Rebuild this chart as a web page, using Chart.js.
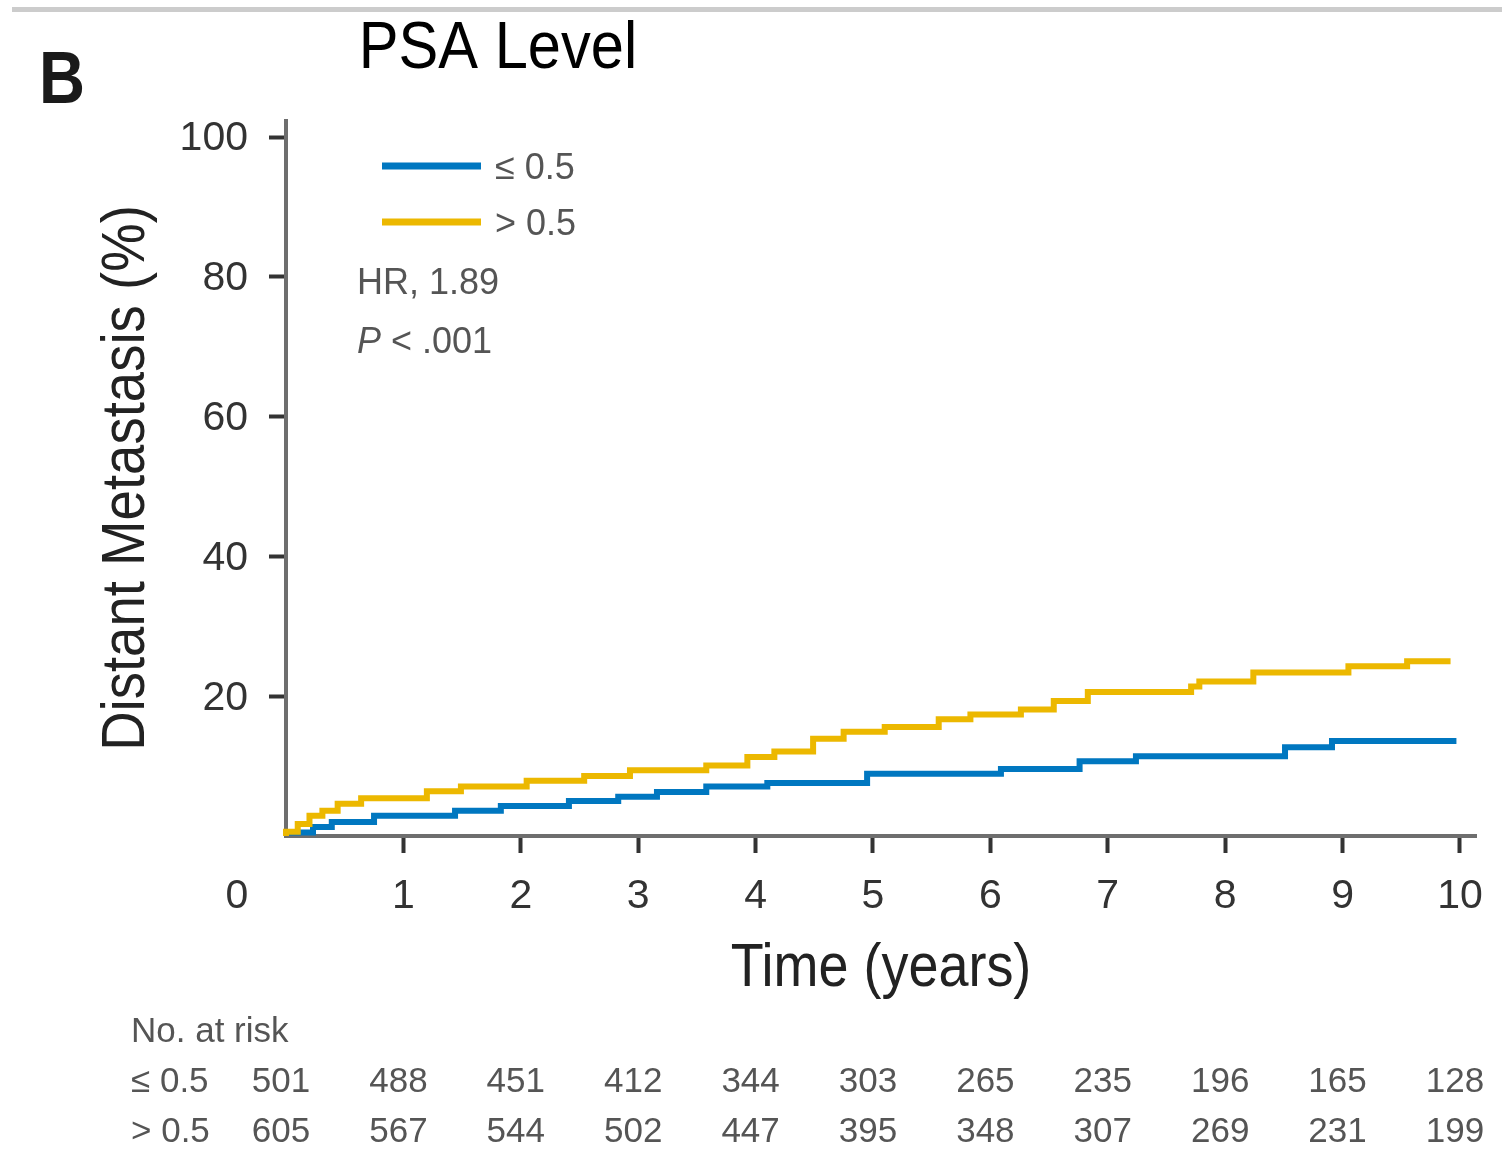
<!DOCTYPE html>
<html>
<head>
<meta charset="utf-8">
<script src="https://cdn.jsdelivr.net/npm/chart.js@4.4.1/dist/chart.umd.min.js"></script>
<style>
html,body{margin:0;padding:0;background:#fff;}
canvas{display:block;}
</style>
</head>
<body>
<canvas id="c" width="1502" height="1153"></canvas>
<script>
// ---- data ----
const titleText = "PSA Level";
const panelLetter = "B";
const yTitle = "Distant Metastasis (%)";
const xTitle = "Time (years)";
const seriesLabels = ["\u2264 0.5", "> 0.5"];
const hrText = "HR, 1.89";
const pText = " < .001";
const xTickValues = [1, 2, 3, 4, 5, 6, 7, 8, 9, 10];
const yTickValues = [20, 40, 60, 80, 100];
const riskTimes = [0, 1, 2, 3, 4, 5, 6, 7, 8, 9, 10];
const riskLow = [501, 488, 451, 412, 344, 303, 265, 235, 196, 165, 128];
const riskHigh = [605, 567, 544, 502, 447, 395, 348, 307, 269, 231, 199];

const lowTimes = [0, 0.23, 0.39, 0.75, 1.44, 1.83, 2.41, 2.83, 3.16, 3.58, 4.10, 4.95, 6.09, 6.76, 7.24, 8.51, 8.91, 9.52, 9.97];
const lowValues = [0, 0.5, 1.3, 2.0, 2.9, 3.6, 4.3, 5.0, 5.6, 6.3, 7.1, 7.6, 8.9, 9.6, 10.7, 11.4, 12.7, 13.6, 13.6];

const highTimes = [0, 0.10, 0.20, 0.31, 0.44, 0.64, 1.20, 1.49, 2.05, 2.54, 2.93, 3.58, 3.93, 4.16, 4.49, 4.75, 5.10, 5.56, 5.83, 6.26, 6.54, 6.83, 7.71, 7.78, 8.24, 9.05, 9.55, 9.85, 9.92];
const highValues = [0, 0.6, 1.7, 2.9, 3.6, 4.6, 5.4, 6.4, 7.1, 7.9, 8.6, 9.4, 10.1, 11.3, 12.1, 13.9, 14.9, 15.6, 16.7, 17.4, 18.1, 19.3, 20.6, 21.4, 22.1, 23.4, 24.3, 25.0, 25.0];

const BLUE = '#0077c0';
const YELLOW = '#ecb800';
const FONT = '"Liberation Sans", Arial, Helvetica, sans-serif';

function pts(t, v) { return t.map((x, i) => ({x: x, y: v[i]})); }

const decor = {
  id: 'decor',
  afterDraw(chart) {
    const ctx = chart.ctx;
    const xs = chart.scales.x;
    ctx.save();
    // top rule
    ctx.fillStyle = '#cccccc';
    ctx.fillRect(12, 7, 1490, 5);

    // title
    ctx.fillStyle = '#000';
    ctx.textBaseline = 'alphabetic';
    ctx.textAlign = 'center';
    ctx.save();
    ctx.translate(498, 68);
    ctx.scale(0.89, 1);
    ctx.font = '67px ' + FONT;
    ctx.fillText(titleText, 0, 0);
    ctx.restore();

    // panel letter
    ctx.save();
    ctx.translate(62, 103);
    ctx.scale(0.86, 1);
    ctx.font = 'bold 74px ' + FONT;
    ctx.fillStyle = '#1a1a1a';
    ctx.fillText(panelLetter, 0, 0);
    ctx.restore();

    // y title
    ctx.save();
    ctx.translate(127, 478);
    ctx.rotate(-Math.PI / 2);
    ctx.scale(0.88, 1);
    ctx.font = '62px ' + FONT;
    ctx.fillStyle = '#222';
    ctx.textBaseline = 'middle';
    ctx.fillText(yTitle, 0, 0);
    ctx.restore();

    // x title
    ctx.save();
    ctx.translate(881, 969);
    ctx.scale(0.87, 1);
    ctx.font = '62px ' + FONT;
    ctx.fillStyle = '#222';
    ctx.textBaseline = 'middle';
    ctx.fillText(xTitle, 0, 0);
    ctx.restore();

    // origin label "0"
    ctx.font = '41px ' + FONT;
    ctx.fillStyle = '#333';
    ctx.textAlign = 'center';
    ctx.textBaseline = 'middle';
    ctx.fillText('0', xs.getPixelForValue(0) - 49, 897);

    // legend
    const legY = [166, 222];
    const legCol = [BLUE, YELLOW];
    ctx.lineWidth = 7;
    for (let i = 0; i < 2; i++) {
      ctx.strokeStyle = legCol[i];
      ctx.beginPath();
      ctx.moveTo(382, legY[i]);
      ctx.lineTo(481, legY[i]);
      ctx.stroke();
      ctx.font = '36px ' + FONT;
      ctx.fillStyle = '#555';
      ctx.textAlign = 'left';
      ctx.textBaseline = 'middle';
      ctx.fillText(seriesLabels[i], 495, legY[i] + 3);
    }
    ctx.fillText(hrText, 357, 284);
    ctx.font = 'italic 36px ' + FONT;
    ctx.fillText('P', 357, 343);
    const pw = ctx.measureText('P').width;
    ctx.font = '36px ' + FONT;
    ctx.fillText(pText, 357 + pw, 343);

    // number at risk
    ctx.fillStyle = '#555';
    ctx.font = '35px ' + FONT;
    ctx.textAlign = 'left';
    ctx.fillText('No. at risk', 131, 1032);
    ctx.fillText(seriesLabels[0], 131, 1082);
    ctx.fillText(seriesLabels[1], 131, 1132);
    ctx.textAlign = 'center';
    riskTimes.forEach((t, i) => {
      const px = xs.getPixelForValue(t) - 5;
      ctx.fillText(String(riskLow[i]), px, 1082);
      ctx.fillText(String(riskHigh[i]), px, 1132);
    });
    ctx.restore();
  }
};

new Chart(document.getElementById('c'), {
  type: 'line',
  data: {
    datasets: [
      {
        label: seriesLabels[1],
        data: pts(highTimes, highValues),
        borderColor: YELLOW,
        borderWidth: 6,
        stepped: 'after',
        pointRadius: 0,
        fill: false,
        clip: false,
        order: 0
      },
      {
        label: seriesLabels[0],
        data: pts(lowTimes, lowValues),
        borderColor: BLUE,
        borderWidth: 6,
        stepped: 'after',
        pointRadius: 0,
        fill: false,
        clip: false,
        order: 1
      }
    ]
  },
  options: {
    responsive: false,
    animation: false,
    devicePixelRatio: 1,
    layout: { padding: { top: 121, right: 18, left: 0, bottom: 0 } },
    plugins: { legend: { display: false }, tooltip: { enabled: false }, title: { display: false } },
    scales: {
      x: {
        type: 'linear',
        min: 0,
        max: 10.14,
        afterFit(s) { s.height = 1153 - 836; },
        afterBuildTicks(s) { s.ticks = xTickValues.map(v => ({value: v})); },
        border: { display: true, color: '#6e6e6e', width: 4 },
        grid: { drawOnChartArea: false, drawTicks: true, tickLength: 17, tickColor: '#333', tickWidth: 4 },
        ticks: { color: '#333', font: { family: FONT, size: 41 }, padding: 19, maxRotation: 0, autoSkip: false }
      },
      y: {
        type: 'linear',
        min: 0,
        max: 102.3,
        afterFit(s) { s.width = 286; },
        afterBuildTicks(s) { s.ticks = yTickValues.map(v => ({value: v})); },
        border: { display: true, color: '#6e6e6e', width: 4 },
        grid: { drawOnChartArea: false, drawTicks: true, tickLength: 17, tickColor: '#333', tickWidth: 4 },
        ticks: { color: '#333', font: { family: FONT, size: 41 }, padding: 21, labelOffset: 2 }
      }
    }
  },
  plugins: [decor]
});
</script>
</body>
</html>
